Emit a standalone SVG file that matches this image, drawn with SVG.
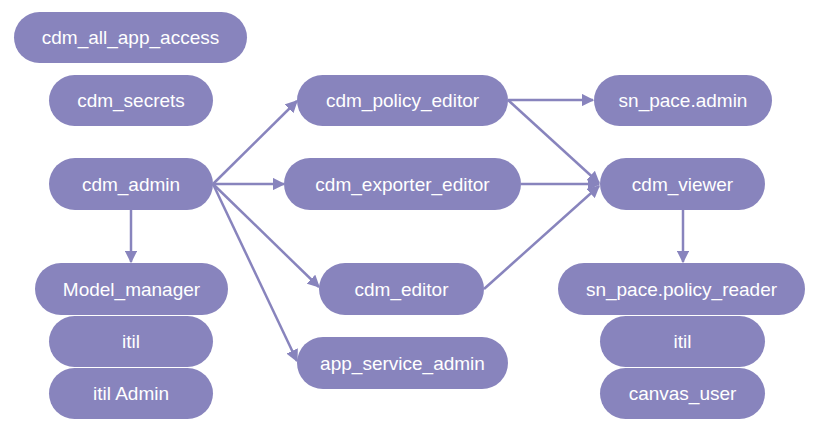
<svg xmlns="http://www.w3.org/2000/svg" width="816" height="432" viewBox="0 0 816 432">
<defs>
<style>
.n rect{fill:#8884bd}
.n text{fill:#fff;font-family:"Liberation Sans",Arial,sans-serif;font-size:19px;text-anchor:middle;dominant-baseline:central}
.e line{stroke:#8884bd;stroke-width:2.5;marker-end:url(#a)}
</style>
<marker id="a" viewBox="0 0 10 10" refX="9" refY="5" markerWidth="5" markerHeight="5" orient="auto"><path d="M0,0L10,5L0,10z" fill="#8884bd"/></marker>
</defs>
<rect width="816" height="432" fill="#fff"/>
<g class="e">
<line x1="213" y1="184" x2="297" y2="101"/>
<line x1="213" y1="184" x2="284" y2="184"/>
<line x1="213" y1="184" x2="319" y2="287"/>
<line x1="213" y1="184" x2="297" y2="361"/>
<line x1="131" y1="210" x2="131" y2="262"/>
<line x1="508" y1="100" x2="593" y2="100"/>
<line x1="508" y1="100" x2="599" y2="183"/>
<line x1="521" y1="184" x2="599" y2="184"/>
<line x1="484" y1="289" x2="599" y2="186"/>
<line x1="683" y1="210" x2="683" y2="262"/>
</g>
<g class="n" id="cdm_all_app_access"><rect x="14" y="12" width="233" height="51" rx="25.5"/><text x="130.5" y="37.5">cdm_all_app_access</text></g>
<g class="n" id="cdm_secrets"><rect x="49" y="75" width="164" height="51" rx="25.5"/><text x="131" y="100.5">cdm_secrets</text></g>
<g class="n" id="cdm_admin"><rect x="49" y="158" width="164" height="52" rx="26"/><text x="131" y="184">cdm_admin</text></g>
<g class="n" id="Model_manager"><rect x="35" y="263" width="193" height="52" rx="26"/><text x="131.5" y="289">Model_manager</text></g>
<g class="n" id="itil_left"><rect x="49" y="316" width="164" height="51" rx="25.5"/><text x="131" y="341.5">itil</text></g>
<g class="n" id="itil_Admin"><rect x="49" y="368" width="164" height="51" rx="25.5"/><text x="131" y="393.5">itil Admin</text></g>
<g class="n" id="cdm_policy_editor"><rect x="297" y="75" width="211" height="51" rx="25.5"/><text x="402.5" y="100.5">cdm_policy_editor</text></g>
<g class="n" id="cdm_exporter_editor"><rect x="284" y="158" width="237" height="52" rx="26"/><text x="402.5" y="184">cdm_exporter_editor</text></g>
<g class="n" id="cdm_editor"><rect x="319" y="263" width="165" height="52" rx="26"/><text x="401.5" y="289">cdm_editor</text></g>
<g class="n" id="app_service_admin"><rect x="297" y="337" width="211" height="52" rx="26"/><text x="402.5" y="363">app_service_admin</text></g>
<g class="n" id="sn_pace_admin"><rect x="594" y="75" width="178" height="51" rx="25.5"/><text x="683" y="100.5">sn_pace.admin</text></g>
<g class="n" id="cdm_viewer"><rect x="600" y="158" width="165" height="52" rx="26"/><text x="682.5" y="184">cdm_viewer</text></g>
<g class="n" id="sn_pace_policy_reader"><rect x="558" y="263" width="247" height="52" rx="26"/><text x="681.5" y="289">sn_pace.policy_reader</text></g>
<g class="n" id="itil_right"><rect x="600" y="316" width="165" height="51" rx="25.5"/><text x="682.5" y="341.5">itil</text></g>
<g class="n" id="canvas_user"><rect x="600" y="368" width="165" height="51" rx="25.5"/><text x="682.5" y="393.5">canvas_user</text></g>
</svg>
